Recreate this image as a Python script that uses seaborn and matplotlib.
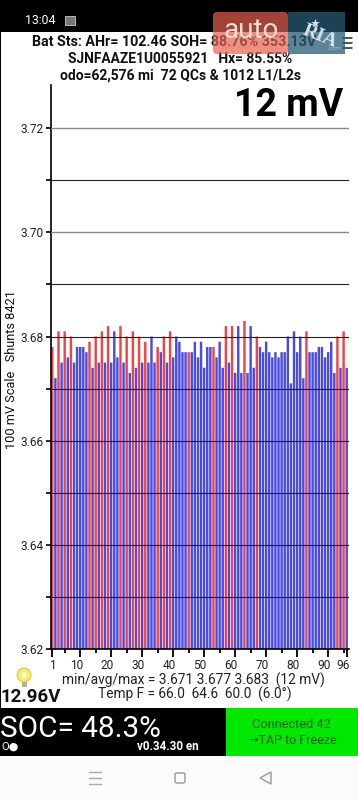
import matplotlib
matplotlib.use('Agg')
import matplotlib.pyplot as plt
from matplotlib.patches import FancyBboxPatch, Rectangle, Ellipse, Polygon
from matplotlib.transforms import ScaledTranslation
import pandas as pd
import seaborn as sns

# cell voltages, cell 1 to 96
volts_1_48 = [3.678, 3.672, 3.681, 3.675, 3.681, 3.676, 3.680, 3.675,
              3.678, 3.678, 3.678, 3.677, 3.679, 3.674, 3.680, 3.675,
              3.681, 3.675, 3.682, 3.675, 3.681, 3.676, 3.682, 3.675,
              3.680, 3.673, 3.681, 3.674, 3.680, 3.675, 3.679, 3.675,
              3.680, 3.675, 3.678, 3.677, 3.680, 3.675, 3.681, 3.676,
              3.680, 3.679, 3.677, 3.677, 3.677, 3.677, 3.679, 3.676]
volts_49_96 = [3.679, 3.674, 3.678, 3.678, 3.678, 3.676, 3.679, 3.674,
               3.682, 3.675, 3.682, 3.673, 3.682, 3.673, 3.683, 3.673,
               3.682, 3.674, 3.680, 3.678, 3.677, 3.679, 3.677, 3.676,
               3.677, 3.676, 3.677, 3.677, 3.680, 3.671, 3.681, 3.677,
               3.680, 3.672, 3.681, 3.677, 3.677, 3.677, 3.678, 3.678,
               3.676, 3.677, 3.679, 3.673, 3.680, 3.674, 3.681, 3.674]
red_cells = [1, 3, 5, 7, 13, 15, 17, 19, 23, 25, 27, 29, 31, 35, 37, 39, 45,
             53, 57, 59, 63, 67, 83, 93, 95]
y_ticks = [3.62, 3.63, 3.64, 3.65, 3.66, 3.67, 3.68, 3.69, 3.70, 3.71, 3.72]
x_major = [1, 10, 20, 30, 40, 50, 60, 70, 80, 90, 96]
x_minor = [5, 15, 25, 35, 45, 55, 65, 75, 85, 95]

sns.set_theme(style='white')
plt.rcParams['font.family'] = ['Roboto', 'DejaVu Sans']

volts = volts_1_48 + volts_49_96
cells = list(range(1, 97))
df = pd.DataFrame({'cell': cells, 'volts': volts,
                   'kind': ['red' if c in red_cells else 'blue' for c in cells]})

W, H = 358, 800
fig = plt.figure(figsize=(W / 100, H / 100), dpi=100, facecolor='white')
ax = fig.add_axes([51 / W, 1 - 649 / H, 298 / W, 564 / H])

sns.barplot(data=df, x='cell', y='volts', hue='kind', palette={'red': '#ee4444', 'blue': '#4a4ae4'},
            native_scale=True, dodge=False, width=0.78, saturation=1, linewidth=0,
            legend=False, ax=ax)
# no pixel snapping, the bars are under 3 px wide
for bar in ax.patches:
    bar.set_snap(False)

ax.set_xlim(0.58, 96.74)
ax.set_ylim(3.62, 3.7283)
ax.set_xlabel('')
ax.set_ylabel('100 mV Scale   Shunts 8421', fontsize=9.2, color='#111111')
ax.yaxis.set_label_coords(-33 / 298, 0.495)

ax.set_yticks(y_ticks)
ax.set_yticklabels([f'{v:.2f}' if i % 2 == 0 else '' for i, v in enumerate(y_ticks)],
                   fontsize=8.6, color='#222222')
ax.set_xticks(x_major)
ax.set_xticklabels([str(v) for v in x_major], fontsize=8.6, color='#222222')
ax.set_xticks(x_minor, minor=True)
ax.tick_params(axis='y', length=3.5, width=1.2, color='black', pad=2, left=True)
ax.tick_params(axis='x', which='major', length=6, width=1.3, color='black', pad=1, bottom=True)
ax.tick_params(axis='x', which='minor', length=3.2, width=1.3, color='black', bottom=True)

# x labels sit a little left of their ticks
shift = ScaledTranslation(-4 / 100, 0, fig.dpi_scale_trans)
for lab, v in zip(ax.get_xticklabels(), x_major):
    if v != 1:
        lab.set_transform(lab.get_transform() + shift)

ax.grid(axis='y', color='#222222', lw=0.8)
ax.set_axisbelow(False)
for line, v in zip(ax.get_ygridlines(), y_ticks):
    if v in (3.72, 3.70):
        line.set_color('#888888')
        line.set_linewidth(1.0)

sns.despine(ax=ax, top=True, right=True)
ax.spines['left'].set_linewidth(1.2)
ax.spines['left'].set_color('black')
ax.spines['bottom'].set_linewidth(1.2)
ax.spines['bottom'].set_color('black')

# screen furniture, in pixel coordinates
ov = fig.add_axes([0, 0, 1, 1], zorder=5)
ov.set_xlim(0, W)
ov.set_ylim(H, 0)
ov.axis('off')

ov.add_patch(Rectangle((0, 0), W, 32, color='black', lw=0))
ov.add_patch(Rectangle((0, 32), 1.2, 676, color='black', lw=0))
ov.add_patch(Rectangle((0, 708), 226, 48, color='black', lw=0))
ov.add_patch(Rectangle((226, 708), 132, 48, color='#00e800', lw=0))
ov.add_patch(Rectangle((0, 756), W, 44, color='#fbfbfb', lw=0))

ov.text(25, 21, '13:04', color='white', fontsize=8.8, va='center')
ov.add_patch(Rectangle((65, 16), 10, 9, facecolor='#777777', edgecolor='#cccccc', lw=0.6))

ov.text(32, 42, 'Bat Sts: AHr= 102.46 SOH= 88.76% 353.13V', fontsize=10.3, fontweight='bold',
        color='#111111', va='center', ha='left')
ov.text(180, 59, 'SJNFAAZE1U0055921   Hx= 85.55%', fontsize=9.9, fontweight='bold',
        color='#111111', va='center', ha='center')
ov.text(180, 76, 'odo=62,576 mi  72 QCs & 1012 L1/L2s', fontsize=10.0, fontweight='bold',
        color='#111111', va='center', ha='center')
ov.text(343, 105, '12 mV', fontsize=27, fontweight='bold', color='black', va='center', ha='right')
for y in (38, 43, 48):
    ov.plot([343, 352], [y, y], color='#222222', lw=1.1)

ov.text(193, 680, 'min/avg/max = 3.671 3.677 3.683  (12 mV)', fontsize=9.9, color='#222222',
        va='center', ha='center')
ov.text(195, 694, 'Temp F = 66.0  64.6  60.0  (6.0°)', fontsize=9.9, color='#222222',
        va='center', ha='center')
ov.text(1, 697, '12.96V', fontsize=13.5, fontweight='bold', color='#111111', va='center', ha='left')

# light bulb
ov.add_patch(Ellipse((24, 675), 14, 14, facecolor='#f8e868', edgecolor='#d9c040', lw=0.6))
ov.add_patch(Ellipse((24, 675), 6, 7, facecolor='#fdf8c8', lw=0))
ov.add_patch(Rectangle((21.5, 681.5), 5, 5.5, facecolor='#b9b090', lw=0))

ov.text(0, 729, 'SOC= 48.3%', fontsize=21.4, color='white', va='center', ha='left')
ov.text(1, 747, 'O●', fontsize=8, color='white', va='center', ha='left')
ov.text(199, 747, 'v0.34.30 en', fontsize=8.4, fontweight='bold', color='white', va='center', ha='right')
ov.text(291, 725, 'Connected 42', fontsize=9.2, color='#005a00', va='center', ha='center')
ov.text(292, 740, '→TAP to Freeze', fontsize=9.0, color='#005a00', va='center', ha='center')

# nav bar
for y in (772, 778, 784):
    ov.plot([89, 101], [y, y], color='#a8a8a8', lw=1)
ov.add_patch(FancyBboxPatch((175, 773), 10, 10, boxstyle='round,pad=0,rounding_size=2',
                            facecolor='none', edgecolor='#a0a0a0', lw=1.1))
ov.add_patch(Polygon([[260, 778], [271, 772], [271, 784]], closed=True,
                     facecolor='none', edgecolor='#a0a0a0', lw=1.1))

# watermark over the header
ov.add_patch(FancyBboxPatch((213, 12), 75, 42, boxstyle='round,pad=0,rounding_size=4',
                            facecolor='#e8604f', edgecolor='none', alpha=0.7, zorder=6))
ov.add_patch(Rectangle((288, 12), 57, 42, facecolor='#265a73', edgecolor='none', alpha=0.75, zorder=6))
ov.text(251, 31, 'auto', fontsize=20, color='#f6dcd6', va='center', ha='center', zorder=7)
ov.scatter([315], [23], marker='*', s=45, color='#d8e4ea', lw=0, zorder=7)
ov.text(320, 37, 'RIA', fontsize=14, fontweight='bold', family='Liberation Serif', color='#d8e4ea',
        va='center', ha='center', rotation=-22, zorder=7)
ov.text(335, 49, '.com', fontsize=4.5, color='#9fc0d0', va='center', ha='center', zorder=7)

fig.savefig('out.png', dpi=100)
